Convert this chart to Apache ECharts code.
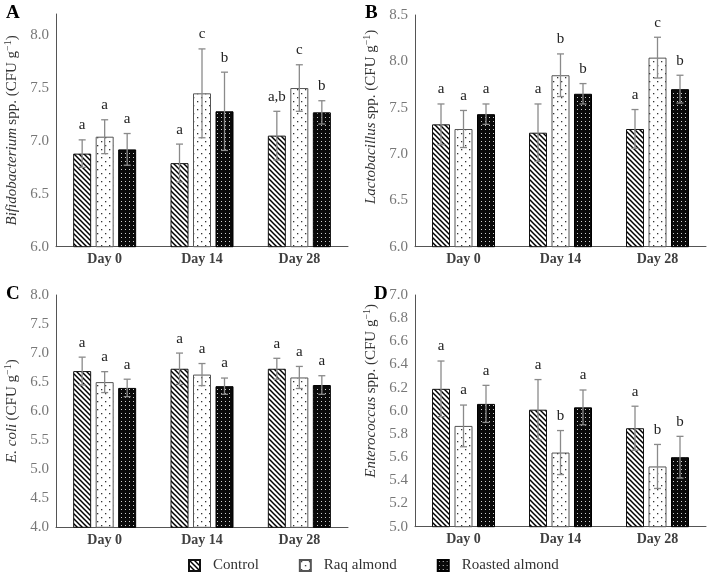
<!DOCTYPE html>
<html><head><meta charset="utf-8">
<script src="https://cdn.jsdelivr.net/npm/echarts@6/dist/echarts.min.js"></script>
<style>html,body{margin:0;padding:0;background:#fff}#c{width:709px;height:573px}</style>
</head><body><div id="c"></div>
<script>
// ---------- data ----------
const categories = ['Day 0', 'Day 14', 'Day 28'];
const seriesNames = ['Control', 'Raq almond', 'Roasted almond'];

// Panel A: Bifidobacterium spp.
const bifControl = [6.88, 6.79, 7.05];
const bifRaq = [7.04, 7.45, 7.50];
const bifRoasted = [6.92, 7.28, 7.27];
const bifControlErr = [0.13, 0.18, 0.23];
const bifRaqErr = [0.16, 0.42, 0.22];
const bifRoastedErr = [0.15, 0.37, 0.11];
const bifControlSig = ['a', 'a', 'a,b'];
const bifRaqSig = ['a', 'c', 'c'];
const bifRoastedSig = ['a', 'b', 'b'];

// Panel B: Lactobacillus spp.
const lacControl = [7.32, 7.23, 7.27];
const lacRaq = [7.27, 7.85, 8.04];
const lacRoasted = [7.43, 7.65, 7.70];
const lacControlErr = [0.22, 0.31, 0.21];
const lacRaqErr = [0.20, 0.23, 0.22];
const lacRoastedErr = [0.11, 0.11, 0.15];
const lacControlSig = ['a', 'a', 'a'];
const lacRaqSig = ['a', 'b', 'c'];
const lacRoastedSig = ['a', 'b', 'b'];

// Panel C: E. coli
const ecoControl = [6.69, 6.73, 6.73];
const ecoRaq = [6.50, 6.63, 6.58];
const ecoRoasted = [6.40, 6.43, 6.45];
const ecoControlErr = [0.24, 0.27, 0.18];
const ecoRaqErr = [0.18, 0.19, 0.19];
const ecoRoastedErr = [0.15, 0.14, 0.16];
const ecoControlSig = ['a', 'a', 'a'];
const ecoRaqSig = ['a', 'a', 'a'];
const ecoRoastedSig = ['a', 'a', 'a'];

// Panel D: Enterococcus spp.
const entControl = [6.19, 6.01, 5.85];
const entRaq = [5.87, 5.64, 5.52];
const entRoasted = [6.06, 6.03, 5.60];
const entControlErr = [0.24, 0.26, 0.19];
const entRaqErr = [0.18, 0.19, 0.19];
const entRoastedErr = [0.16, 0.15, 0.18];
const entControlSig = ['a', 'a', 'a'];
const entRaqSig = ['a', 'b', 'b'];
const entRoastedSig = ['a', 'a', 'b'];

// y axis ranges / ticks
const yMin = [6, 6, 4, 5];
const yMax = [8.2, 8.5, 8, 7];
const yStep = [0.5, 0.5, 0.5, 0.2];

// ---------- patterns ----------
function hatchPattern() {
  const s = 5, cv = document.createElement('canvas');
  cv.width = s; cv.height = s;
  const g = cv.getContext('2d');
  g.fillStyle = '#fff'; g.fillRect(0, 0, s, s);
  g.strokeStyle = '#000'; g.lineWidth = 1.5;
  for (let k = -1; k <= 1; k++) {
    g.beginPath(); g.moveTo(-1, k * s - 1); g.lineTo(s + 1, s + k * s + 1); g.stroke();
  }
  return { image: cv, repeat: 'repeat' };
}
function lightDots() {
  const s = 8, cv = document.createElement('canvas');
  cv.width = s; cv.height = s;
  const g = cv.getContext('2d');
  g.fillStyle = '#fff'; g.fillRect(0, 0, s, s);
  g.fillStyle = '#333';
  g.fillRect(1, 1, 1.3, 1.3); g.fillRect(5, 5, 1.3, 1.3);
  return { image: cv, repeat: 'repeat' };
}
function darkDots() {
  const s = 4, cv = document.createElement('canvas');
  cv.width = s; cv.height = s;
  const g = cv.getContext('2d');
  g.fillStyle = '#0a0a0a'; g.fillRect(0, 0, s, s);
  g.fillStyle = '#cfcfcf';
  g.fillRect(1, 1, 1, 1);
  return { image: cv, repeat: 'repeat' };
}
const fills = [hatchPattern(), lightDots(), darkDots()];
const borders = ['#111', '#555', '#000'];

// ---------- layout ----------
const SERIF = '"Liberation Serif", "Times New Roman", serif';
const BAR_W = 18, GAP_RATIO = 0.25, GAP_PX = BAR_W * GAP_RATIO;
const grids = [
  { left: 56, top: 14, width: 292, height: 232.7 },
  { left: 415, top: 15, width: 291, height: 231.7 },
  { left: 56, top: 295, width: 292, height: 232.3 },
  { left: 415, top: 295, width: 291, height: 231.7 }
];
const panels = [
  { vals: [bifControl, bifRaq, bifRoasted], errs: [bifControlErr, bifRaqErr, bifRoastedErr], sigs: [bifControlSig, bifRaqSig, bifRoastedSig],
    name: '{i|Bifidobacterium} {n|spp. (CFU g}{s|−1}{n|)}', pad: 0 },
  { vals: [lacControl, lacRaq, lacRoasted], errs: [lacControlErr, lacRaqErr, lacRoastedErr], sigs: [lacControlSig, lacRaqSig, lacRoastedSig],
    name: '{i|Lactobacillus} {n|spp. (CFU g}{s|−1}{n|)}', pad: 28 },
  { vals: [ecoControl, ecoRaq, ecoRoasted], errs: [ecoControlErr, ecoRaqErr, ecoRoastedErr], sigs: [ecoControlSig, ecoRaqSig, ecoRoastedSig],
    name: '{i|E. coli} {n|(CFU g}{s|−1}{n|)}', pad: 0 },
  { vals: [entControl, entRaq, entRoasted], errs: [entControlErr, entRaqErr, entRoastedErr], sigs: [entControlSig, entRaqSig, entRoastedSig],
    name: '{i|Enterococcus} {n|spp. (CFU g}{s|−1}{n|)}', pad: 40 }
];

const richName = {
  i: { fontFamily: SERIF, fontSize: 15, fontStyle: 'italic', color: '#333', lineHeight: 18 },
  n: { fontFamily: SERIF, fontSize: 15, color: '#333', lineHeight: 18 },
  s: { fontFamily: SERIF, fontSize: 10, color: '#333', lineHeight: 10, verticalAlign: 'top' }
};

const xAxis = [], yAxis = [], series = [];
panels.forEach((p, pi) => {
  xAxis.push({
    type: 'category', gridIndex: pi, data: categories,
    axisTick: { show: false },
    axisLine: { lineStyle: { color: '#555', width: 1 } },
    axisLabel: { fontFamily: SERIF, fontSize: 14, fontWeight: 'bold', color: '#404040', margin: 6 }
  });
  const step = yStep[pi];
  yAxis.push({
    type: 'value', gridIndex: pi, min: yMin[pi], max: yMax[pi], interval: step,
    name: p.name, nameLocation: 'middle', nameGap: 35, nameRotate: 90,
    nameTextStyle: { rich: richName, padding: [0, 0, 0, p.pad] },
    axisLine: { show: true, lineStyle: { color: '#555', width: 1 } },
    axisTick: { show: false },
    splitLine: { show: false },
    axisLabel: {
      fontFamily: SERIF, fontSize: 15, color: '#777', margin: 7,
      formatter: v => (Math.abs(v / step - Math.round(v / step)) < 1e-6 ? v.toFixed(1) : '')
    }
  });
  for (let s = 0; s < 3; s++) {
    series.push({
      type: 'bar', name: seriesNames[s], xAxisIndex: pi, yAxisIndex: pi,
      data: p.vals[s], barWidth: BAR_W, barGap: (GAP_RATIO * 100) + '%',
      itemStyle: { color: fills[s], borderColor: borders[s], borderWidth: 1 },
      silent: true, animation: false
    });
  }
  const data = [];
  for (let s = 0; s < 3; s++) for (let c = 0; c < 3; c++) data.push([c, p.vals[s][c], p.errs[s][c], s]);
  const sigList = [];
  for (let s = 0; s < 3; s++) for (let c = 0; c < 3; c++) sigList.push(p.sigs[s][c]);
  series.push({
    type: 'custom', xAxisIndex: pi, yAxisIndex: pi, silent: true, z: 10, animation: false,
    data: data, encode: { x: 0, y: 1 },
    renderItem: function (params, api) {
      const c = api.value(0), v = api.value(1), e = api.value(2), s = api.value(3);
      const off = (s - 1) * (BAR_W + GAP_PX);
      const x = api.coord([c, v])[0] + off;
      const yT = api.coord([c, v + e])[1];
      const yB = api.coord([c, v - e])[1];
      const cw = 3.5;
      const st = { stroke: '#8a8a8a', lineWidth: 1.3 };
      return {
        type: 'group', children: [
          { type: 'line', shape: { x1: x, y1: yT, x2: x, y2: yB }, style: st },
          { type: 'line', shape: { x1: x - cw, y1: yT, x2: x + cw, y2: yT }, style: st },
          { type: 'line', shape: { x1: x - cw, y1: yB, x2: x + cw, y2: yB }, style: st },
          { type: 'text', x: x, y: yT - 7,
            style: { text: sigList[params.dataIndex], fill: '#222', fontFamily: SERIF, fontSize: 15,
                     align: 'center', verticalAlign: 'bottom', textAlign: 'center', textVerticalAlign: 'bottom' } }
        ]
      };
    }
  });
});

const panelLetters = [['A', 6, 14], ['B', 365, 14], ['C', 6, 295], ['D', 374, 295]];

const chart = echarts.init(document.getElementById('c'), null, { renderer: 'canvas' });
chart.setOption({
  backgroundColor: '#fff',
  animation: false,
  grid: grids,
  xAxis: xAxis,
  yAxis: yAxis,
  series: series,
  legend: {
    data: seriesNames, left: 183, top: 553, itemWidth: 11, itemHeight: 11, itemGap: 40, icon: 'rect',
    selectedMode: false,
    textStyle: { fontFamily: SERIF, fontSize: 15, color: '#333', padding: [0, 0, 0, 8] }
  },
  graphic: panelLetters.map(l => ({
    type: 'text', left: l[1], top: l[2] - 10,
    style: { text: l[0], fill: '#000', fontFamily: SERIF, fontSize: 19, fontWeight: 'bold' }
  }))
});
</script></body></html>
